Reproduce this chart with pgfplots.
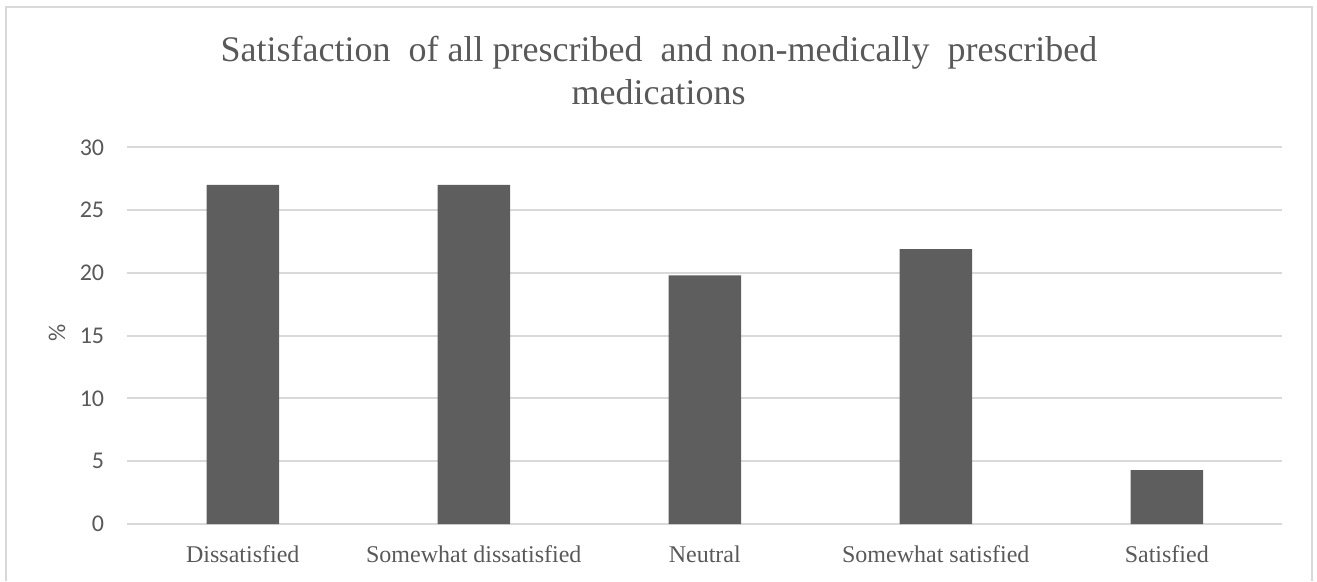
\documentclass[border=0pt]{standalone}
\usepackage{pgfplots}
\pgfplotsset{compat=1.18}
\usepackage{fontspec}
\setmainfont{Liberation Serif}
\newfontfamily\calibri{Carlito}

\definecolor{bargray}{HTML}{5E5E5E}
\definecolor{textgray}{HTML}{595959}
\definecolor{gridgray}{HTML}{D9D9D9}

\begin{document}
\begin{tikzpicture}
  % canvas and chart frame (open at the bottom)
  \path[use as bounding box] (0,0) rectangle (1317pt,581pt);
  \draw[gridgray, line width=2pt] (6pt,0pt) -- (6pt,574pt) -- (1311.5pt,574pt) -- (1311.5pt,0pt);

  % title, two lines
  \node[anchor=base, text=textgray, inner sep=0pt, font=\fontsize{36}{36}\selectfont]
    at (659pt,519pt) {Satisfaction\ \ of all prescribed\ \ and non-medically\ \ prescribed};
  \node[anchor=base, text=textgray, inner sep=0pt, font=\fontsize{36}{36}\selectfont]
    at (658.5pt,476pt) {medications};

  \begin{axis}[
      at={(127.3pt,57pt)}, anchor=south west,
      scale only axis,
      width=1155pt, height=376.7pt,
      xmin=-0.5, xmax=4.5,
      ymin=0, ymax=30,
      ytick={0,5,10,15,20,25,30},
      xtick={0,1,2,3,4},
      xticklabels={Dissatisfied, Somewhat dissatisfied, Neutral, Somewhat satisfied, Satisfied},
      major tick length=0pt,
      axis line style={draw=none},
      ymajorgrids,
      grid style={gridgray, line width=2pt},
      /pgf/number format/assume math mode=true,
      yticklabel style={font=\calibri\fontsize{24}{24}\selectfont, text=textgray,
        anchor=east, inner sep=0pt, xshift=-23pt},
      xticklabel style={font=\fontsize{24}{24}\selectfont, text=textgray,
        anchor=north, inner sep=0pt, yshift=-21.5pt},
      ylabel={\%},
      every axis y label/.style={at={(axis description cs:-0.0609,0.507)}, rotate=90,
        anchor=center, inner sep=0pt, font=\calibri\fontsize{24}{24}\selectfont, text=textgray},
      ybar, bar width=72.5pt, bar shift=0pt,
    ]
    \addplot[fill=bargray, draw=none] coordinates {
      (0,27.0) (1,27.0) (2,19.8) (3,21.9) (4,4.3)
    };
  \end{axis}
\end{tikzpicture}
\end{document}
